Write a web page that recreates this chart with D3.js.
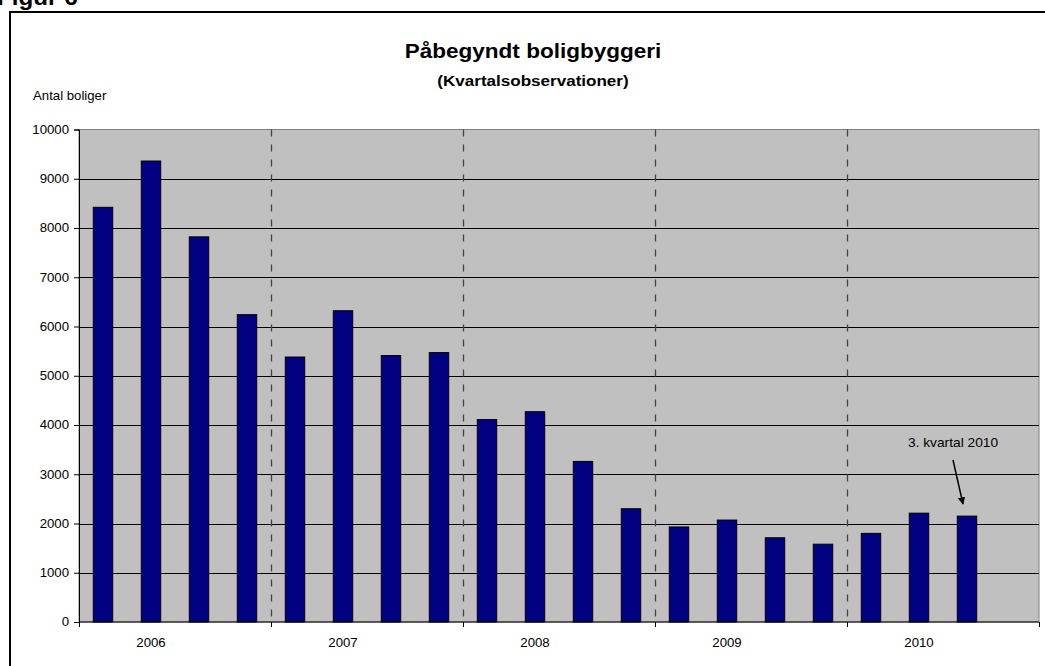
<!DOCTYPE html>
<html>
<head>
<meta charset="utf-8">
<script src="https://cdn.jsdelivr.net/npm/d3@7"></script>
<style>
  html, body { margin: 0; padding: 0; background: #fff; }
  svg { display: block; font-family: Arial, "Liberation Sans", sans-serif; }
</style>
</head>
<body>
<div id="chart"></div>
<script>
// Påbegyndt boligbyggeri, kvartalsobservationer 2006-2010
const years = ['2006', '2007', '2008', '2009', '2010'];
const quarterNames = ['K1', 'K2', 'K3', 'K4'];
const quarters = years.flatMap(y => quarterNames.map(q => y + q));
// antal påbegyndte boliger; 2010K4 er endnu ikke offentliggjort
const values = [8420, 9360, 7820, 6240, 5380, 6320, 5410, 5470, 4110, 4270,
  3260, 2300, 1930, 2070, 1710, 1580, 1800, 2210, 2150];
const yTicks = [0, 1000, 2000, 3000, 4000, 5000, 6000, 7000, 8000, 9000, 10000];
const yLabel = 'Antal boliger';
const title = 'Påbegyndt boligbyggeri';
const subtitle = '(Kvartalsobservationer)';
const note = '3. kvartal 2010';
const noteQuarter = '2010K3';

const W = 1045, H = 666;
const plot = { left: 79, right: 1039, top: 129.5, bottom: 622 };
const SX = 1.1; // the original is stretched a little horizontally

const svg = d3.select('#chart').append('svg')
  .attr('width', W).attr('height', H);

// arrow marker for the annotation
svg.append('defs').append('marker')
  .attr('id', 'arrow').attr('viewBox', '0 0 10 10')
  .attr('refX', 9).attr('refY', 5)
  .attr('markerWidth', 5).attr('markerHeight', 5)
  .attr('orient', 'auto')
  .append('path').attr('d', 'M0,0L10,5L0,10Z').attr('fill', '#000');

// stretched text helper
function label(g, x, y, txt, o = {}) {
  return g.append('text')
    .attr('transform', `translate(${x},${y}) scale(${SX},1)`)
    .attr('text-anchor', o.anchor || 'middle')
    .attr('font-size', o.size || 13)
    .attr('font-weight', o.bold ? 700 : 400)
    .attr('fill', '#000')
    .text(txt);
}

// figure number sits partly above the page edge, as in the original
label(svg, -3, 5, 'Figur 6', { anchor: 'start', size: 22, bold: true });

// outer frame (runs off the right and bottom edge)
svg.append('rect')
  .attr('x', 10).attr('y', 12).attr('width', W + 20).attr('height', H + 20)
  .attr('fill', 'none').attr('stroke', '#000').attr('stroke-width', 2);

label(svg, 533, 58, title, { size: 20.5, bold: true });
label(svg, 533, 86, subtitle, { size: 15.5, bold: true });
label(svg, 33, 100, yLabel, { anchor: 'start', size: 12 });

const x = d3.scaleBand().domain(quarters)
  .range([plot.left, plot.right])
  .paddingInner(0.595).paddingOuter(0.2975);
const y = d3.scaleLinear().domain([0, 10000]).range([plot.bottom, plot.top]);
const gap = (x.step() - x.bandwidth()) / 2;

// plot area
svg.append('rect')
  .attr('x', plot.left).attr('y', plot.top)
  .attr('width', plot.right - plot.left).attr('height', plot.bottom - plot.top)
  .attr('fill', '#c0c0c0').attr('stroke', '#808080').attr('stroke-width', 1);

// horizontal gridlines
svg.append('g').selectAll('line')
  .data(yTicks.filter(v => v > 0 && v < 10000))
  .join('line')
  .attr('x1', plot.left).attr('x2', plot.right)
  .attr('y1', d => Math.round(y(d)) + .5).attr('y2', d => Math.round(y(d)) + .5)
  .attr('stroke', '#000').attr('stroke-width', 1);

// year separators
const bounds = years.map(yr => x(yr + 'K1') - gap).concat([plot.right]);
svg.append('g').selectAll('line')
  .data(bounds.slice(1, -1))
  .join('line')
  .attr('x1', d => Math.round(d) + .5).attr('x2', d => Math.round(d) + .5)
  .attr('y1', plot.top).attr('y2', plot.bottom)
  .attr('stroke', '#444').attr('stroke-width', 1.3)
  .attr('stroke-dasharray', '7,8');

// bars
svg.append('g').selectAll('rect')
  .data(values)
  .join('rect')
  .attr('x', (d, i) => x(quarters[i]))
  .attr('y', d => y(d))
  .attr('width', x.bandwidth())
  .attr('height', d => y(0) - y(d))
  .attr('fill', '#000080')
  .attr('stroke', '#000').attr('stroke-width', 1);

// y axis
const yAxis = svg.append('g')
  .attr('transform', `translate(${plot.left},0)`)
  .call(d3.axisLeft(y).tickValues(yTicks).tickSize(5).tickPadding(5).tickFormat(d3.format('d')));
yAxis.select('.domain').attr('stroke', '#000');
yAxis.selectAll('.tick line').attr('stroke', '#000');
yAxis.selectAll('.tick text')
  .attr('font-size', 12).attr('font-family', 'Arial, "Liberation Sans", sans-serif')
  .attr('fill', '#000')
  .attr('transform', `scale(${SX},1)`)
  .attr('x', -10 / SX);

// x axis
svg.append('line')
  .attr('x1', plot.left).attr('x2', plot.right)
  .attr('y1', plot.bottom).attr('y2', plot.bottom)
  .attr('stroke', '#000');
svg.append('g').selectAll('line')
  .data(bounds)
  .join('line')
  .attr('x1', d => Math.round(d) + .5).attr('x2', d => Math.round(d) + .5)
  .attr('y1', plot.bottom).attr('y2', plot.bottom + 5)
  .attr('stroke', '#000');
const yearG = svg.append('g');
years.forEach(yr => label(yearG, x(yr + 'K2') + x.bandwidth() / 2, 647, yr, { size: 12 }));

// annotation for the latest quarter
const nx = x(noteQuarter) + x.bandwidth() / 2;
label(svg, nx - 14, 447, note, { size: 12.5 });
svg.append('line')
  .attr('x1', nx - 14).attr('y1', 460)
  .attr('x2', nx - 4).attr('y2', y(values[quarters.indexOf(noteQuarter)]) - 12)
  .attr('stroke', '#000').attr('stroke-width', 1.5)
  .attr('marker-end', 'url(#arrow)');
</script>
</body>
</html>
